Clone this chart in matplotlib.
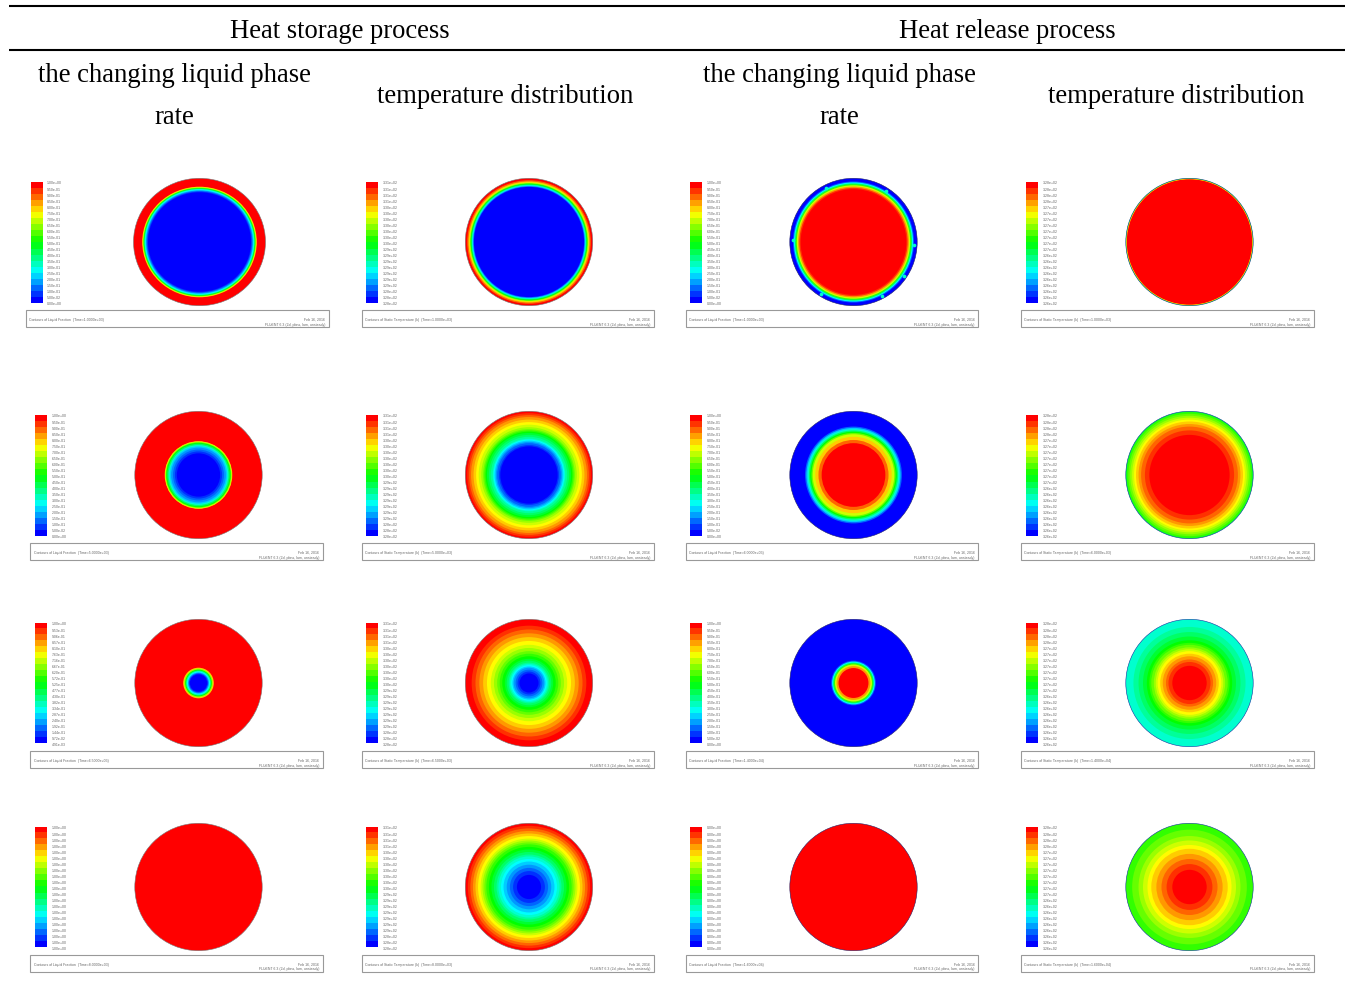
import matplotlib
matplotlib.use("Agg")
import matplotlib.pyplot as plt
from matplotlib.colors import LinearSegmentedColormap
from matplotlib.patches import Circle, Rectangle
import numpy as np

W, H = 1347, 1003

# ---------- header text ----------
GROUP_TITLES = ["Heat storage process", "Heat release process"]
COLUMN_TITLES = ["the changing liquid phase\n\nrate", "temperature distribution",
                 "the changing liquid phase\n\nrate", "temperature distribution"]

# ---------- colour-bar labels ----------
LIQUID_LABELS = ["1.00e+00", "9.50e-01", "9.00e-01", "8.50e-01", "8.00e-01", "7.50e-01", "7.00e-01",
                 "6.50e-01", "6.00e-01", "5.50e-01", "5.00e-01", "4.50e-01", "4.00e-01", "3.50e-01",
                 "3.00e-01", "2.50e-01", "2.00e-01", "1.50e-01", "1.00e-01", "5.00e-02", "0.00e+00"]
LIQUID_LABELS_R3 = ["1.00e+00", "9.53e-01", "9.06e-01", "8.57e-01", "8.10e-01", "7.63e-01", "7.16e-01",
                    "6.67e-01", "6.20e-01", "5.72e-01", "5.25e-01", "4.77e-01", "4.30e-01", "3.82e-01",
                    "3.34e-01", "2.87e-01", "2.40e-01", "1.92e-01", "1.44e-01", "9.72e-02", "4.91e-03"]
LIQUID_LABELS_FULL = ["1.00e+00"] * 21
LIQUID_LABELS_ZERO = ["0.00e+00"] * 21
TEMP_STORE_LABELS = ["3.31e+02"] * 4 + ["3.30e+02"] * 7 + ["3.29e+02"] * 7 + ["3.28e+02"] * 3
TEMP_RELEASE_LABELS = ["3.28e+02"] * 4 + ["3.27e+02"] * 8 + ["3.26e+02"] * 9

# ---------- footer text ----------
LIQUID_TITLE = "Contours of Liquid Fraction  (Time=%s)"
TEMP_TITLE = "Contours of Static Temperature (k)  (Time=%s)"
STORE_TIMES = ["1.0000e+03", "5.0000e+03", "6.5000e+03", "8.0000e+03"]
RELEASE_TIMES = ["1.0000e+03", "6.0000e+03", "1.4000e+04", "1.6000e+04"]

# ---------- contour rings: level (0 = blue, 20 = red) and outer radius, outside to inside ----------
S_LF1_LEVELS = [20, 16, 14, 12, 10, 8, 6, 5, 4, 3, 2, 1, 0]
S_LF1_RADII = [1.0, .868, .86, .852, .845, .838, .83, .822, .815, .808, .80, .79, .78]
S_LF2_LEVELS = [20, 16, 14, 12, 10, 8, 6, 4, 3, 2, 1, 0]
S_LF2_RADII = [1.0, .53, .525, .515, .505, .49, .47, .45, .43, .40, .37, .34]
S_LF3_LEVELS = [20, 16, 13, 10, 7, 5, 3, 1, 0]
S_LF3_RADII = [1.0, .24, .225, .21, .195, .18, .165, .15, .135]
S_LF4_LEVELS = [20]
S_LF4_RADII = [1.0]

S_T1_LEVELS = [20, 18, 16, 14, 12, 10, 8, 6, 4, 2, 0]
S_T1_RADII = [1.0, .97, .95, .935, .925, .915, .905, .895, .885, .875, .865]
S_T2_LEVELS = list(range(20, -1, -1))
S_T2_RADII = [1.0, .97, .94, .91, .87, .83, .79, .75, .72, .70, .68, .66, .63, .60, .57, .555, .54, .52, .50, .47, .45]
S_T3_LEVELS = list(range(20, -1, -1))
S_T3_RADII = [1.0, .90, .84, .78, .72, .66, .60, .55, .50, .46, .42, .38, .35, .32, .30, .28, .26, .24, .21, .18, .15]
S_T4_LEVELS = list(range(20, -1, -1))
S_T4_RADII = [1.0, .96, .92, .88, .84, .80, .76, .73, .70, .67, .63, .59, .55, .51, .48, .44, .40, .35, .30, .25, .19]

R_LF1_LEVELS = [0, 2, 5, 8, 11, 14, 17, 19, 20]
R_LF1_RADII = [1.0, .95, .935, .92, .905, .89, .87, .85, .83]
R_LF2_LEVELS = [0, 2, 4, 6, 8, 10, 12, 14, 16, 18, 20]
R_LF2_RADII = [1.0, .76, .74, .72, .70, .68, .66, .64, .60, .55, .50]
R_LF3_LEVELS = [0, 2, 5, 8, 11, 14, 17, 20]
R_LF3_RADII = [1.0, .35, .335, .32, .305, .29, .265, .235]
R_LF4_LEVELS = [20]
R_LF4_RADII = [1.0]

R_T1_LEVELS = [10, 15, 20]
R_T1_RADII = [1.0, .995, .985]
R_T2_LEVELS = [9, 11, 12, 13, 14, 15, 16, 17, 18, 19, 20]
R_T2_RADII = [1.0, .985, .96, .93, .90, .87, .84, .80, .76, .70, .63]
R_T3_LEVELS = [6, 7, 8, 9, 10, 11, 12, 13, 14, 15, 16, 17, 18, 19, 20]
R_T3_RADII = [1.0, .88, .80, .73, .67, .63, .60, .56, .53, .50, .46, .42, .37, .33, .27]
R_T4_LEVELS = [11, 12, 13, 14, 15, 16, 17, 18, 19, 20]
R_T4_RADII = [1.0, .90, .80, .73, .66, .60, .52, .44, .36, .27]

# Angles (degrees) of the small bright spots on the ring of the first release panel
R_LF1_SPOT_ANGLES = [117, 57.5, -2.5, -33.6, -62.5, -122, 178]

# ---------- layout, pixels ----------
Y_SHIFT = 1
BAR_TOPS = [182, 415, 623, 827]
DISC_CY = [242, 475, 683, 887]
BOX_TOPS = [310, 543, 751, 955]
COL_DISC_X = [198.5, 529, 853.5, 1189.5]
COL_BAR_X = [35, 366, 690, 1026]
COL_BOX = [(30, 322.5), (361.5, 653.5), (685.5, 978), (1021, 1313.5)]

cmap = LinearSegmentedColormap.from_list(
    "fluent", [(0, 0, 1), (0, 1, 1), (0, 1, 0), (1, 1, 0), (1, 0, 0)], N=256)
edge_colors = ["#777777", "#777777", "#222266", "#1030a0"]

fig = plt.figure(figsize=(W / 100, H / 100), dpi=100, facecolor="white")
plt.rcParams["font.family"] = ["Liberation Serif", "DejaVu Serif"]
SANS = ["Liberation Sans", "DejaVu Sans"]
SMALL = 2.55
GREY = "#666666"


def add_px_axes(x0, y0, x1, y1):
    y0 += Y_SHIFT
    y1 += Y_SHIFT
    return fig.add_axes([x0 / W, 1 - y1 / H, (x1 - x0) / W, (y1 - y0) / H])


frame = fig.add_axes([0, 0, 1, 1])
frame.set_xlim(0, W)
frame.set_ylim(H - Y_SHIFT, -Y_SHIFT)
frame.axis("off")

# table rules
for y in (6, 50):
    frame.plot([9, 1345], [y, y], color="black", lw=1.5, solid_capstyle="butt")

TS = 19.2
frame.text(339.5, 30, GROUP_TITLES[0], fontsize=TS, ha="center", va="center")
frame.text(1007, 30, GROUP_TITLES[1], fontsize=TS, ha="center", va="center")
for x, s in zip((174, 505, 839, 1176), COLUMN_TITLES):
    if "\n" in s:
        a, b = s.split("\n\n")
        frame.text(x, 74, a, fontsize=TS, ha="center", va="center")
        frame.text(x, 116, b, fontsize=TS, ha="center", va="center")
    else:
        frame.text(x, 95, s, fontsize=TS, ha="center", va="center")

PANELS = [
    [(S_LF1_LEVELS, S_LF1_RADII, LIQUID_LABELS), (S_T1_LEVELS, S_T1_RADII, TEMP_STORE_LABELS),
     (R_LF1_LEVELS, R_LF1_RADII, LIQUID_LABELS), (R_T1_LEVELS, R_T1_RADII, TEMP_RELEASE_LABELS)],
    [(S_LF2_LEVELS, S_LF2_RADII, LIQUID_LABELS), (S_T2_LEVELS, S_T2_RADII, TEMP_STORE_LABELS),
     (R_LF2_LEVELS, R_LF2_RADII, LIQUID_LABELS), (R_T2_LEVELS, R_T2_RADII, TEMP_RELEASE_LABELS)],
    [(S_LF3_LEVELS, S_LF3_RADII, LIQUID_LABELS_R3), (S_T3_LEVELS, S_T3_RADII, TEMP_STORE_LABELS),
     (R_LF3_LEVELS, R_LF3_RADII, LIQUID_LABELS), (R_T3_LEVELS, R_T3_RADII, TEMP_RELEASE_LABELS)],
    [(S_LF4_LEVELS, S_LF4_RADII, LIQUID_LABELS_FULL), (S_T4_LEVELS, S_T4_RADII, TEMP_STORE_LABELS),
     (R_LF4_LEVELS, R_LF4_RADII, LIQUID_LABELS_ZERO), (R_T4_LEVELS, R_T4_RADII, TEMP_RELEASE_LABELS)],
]

for r, row in enumerate(PANELS):
    for c, (levels, radii, labels) in enumerate(row):
        first = (r == 0 and c == 0)
        cx = 199.5 if first else COL_DISC_X[c]
        Rx = 66 if first else 63.7
        Ry = 63.7
        bx = 30.5 if first else COL_BAR_X[c]
        box = (25.5, 328.5) if first else COL_BOX[c]

        # disc (data radius 1 fills Rx by Ry pixels)
        ax = add_px_axes(cx - Rx - 1, DISC_CY[r] - Ry - 1, cx + Rx + 1, DISC_CY[r] + Ry + 1)
        ax.set_xlim(-(Rx + 1) / Rx, (Rx + 1) / Rx)
        ax.set_ylim(-(Ry + 1) / Ry, (Ry + 1) / Ry)
        ax.axis("off")
        for lev, rad in zip(levels, radii):
            ax.add_patch(Circle((0, 0), rad, fc=cmap(lev / 20), ec="none"))
        if r == 0 and c == 2:
            ang = np.radians(R_LF1_SPOT_ANGLES)
            ax.scatter(.955 * np.cos(ang), .955 * np.sin(ang), s=7, c=[cmap(6 / 20)], linewidths=0, zorder=3)
        ax.add_patch(Circle((0, 0), 1.0, fc="none", ec=edge_colors[c], lw=0.4))

        # colour bar
        bar = add_px_axes(bx, BAR_TOPS[r], bx + 11.5, BAR_TOPS[r] + 120.5)
        bands = np.arange(20)[::-1].reshape(-1, 1)
        bar.imshow(bands, cmap=cmap, vmin=0, vmax=19, aspect="auto", extent=(0, 1, 20, 0),
                   interpolation="nearest")
        bar.set_xticks([])
        bar.yaxis.tick_right()
        bar.set_yticks(np.arange(21))
        bar.set_yticklabels(labels, fontsize=SMALL, color=GREY, family=SANS)
        bar.tick_params(axis="y", length=0, pad=3.6)
        for sp in bar.spines.values():
            sp.set_visible(False)

        # footer box
        bt = BOX_TOPS[r]
        frame.add_patch(Rectangle((box[0], bt), box[1] - box[0], 17, fc="white", ec="#999999", lw=0.8))
        times = STORE_TIMES if c < 2 else RELEASE_TIMES
        title = (LIQUID_TITLE if c % 2 == 0 else TEMP_TITLE) % times[r]
        frame.text(box[0] + 3.5, bt + 9, title, fontsize=SMALL, color=GREY, family=SANS, va="center")
        frame.text(box[1] - 3.5, bt + 8.5, "Feb 16, 2016", fontsize=SMALL, color=GREY, family=SANS,
                   va="center", ha="right")
        frame.text(box[1] - 3.5, bt + 13.5, "FLUENT 6.3 (2d, pbns, lam, unsteady)", fontsize=SMALL,
                   color=GREY, family=SANS, va="center", ha="right")

fig.savefig("out.png", dpi=100, facecolor="white")
